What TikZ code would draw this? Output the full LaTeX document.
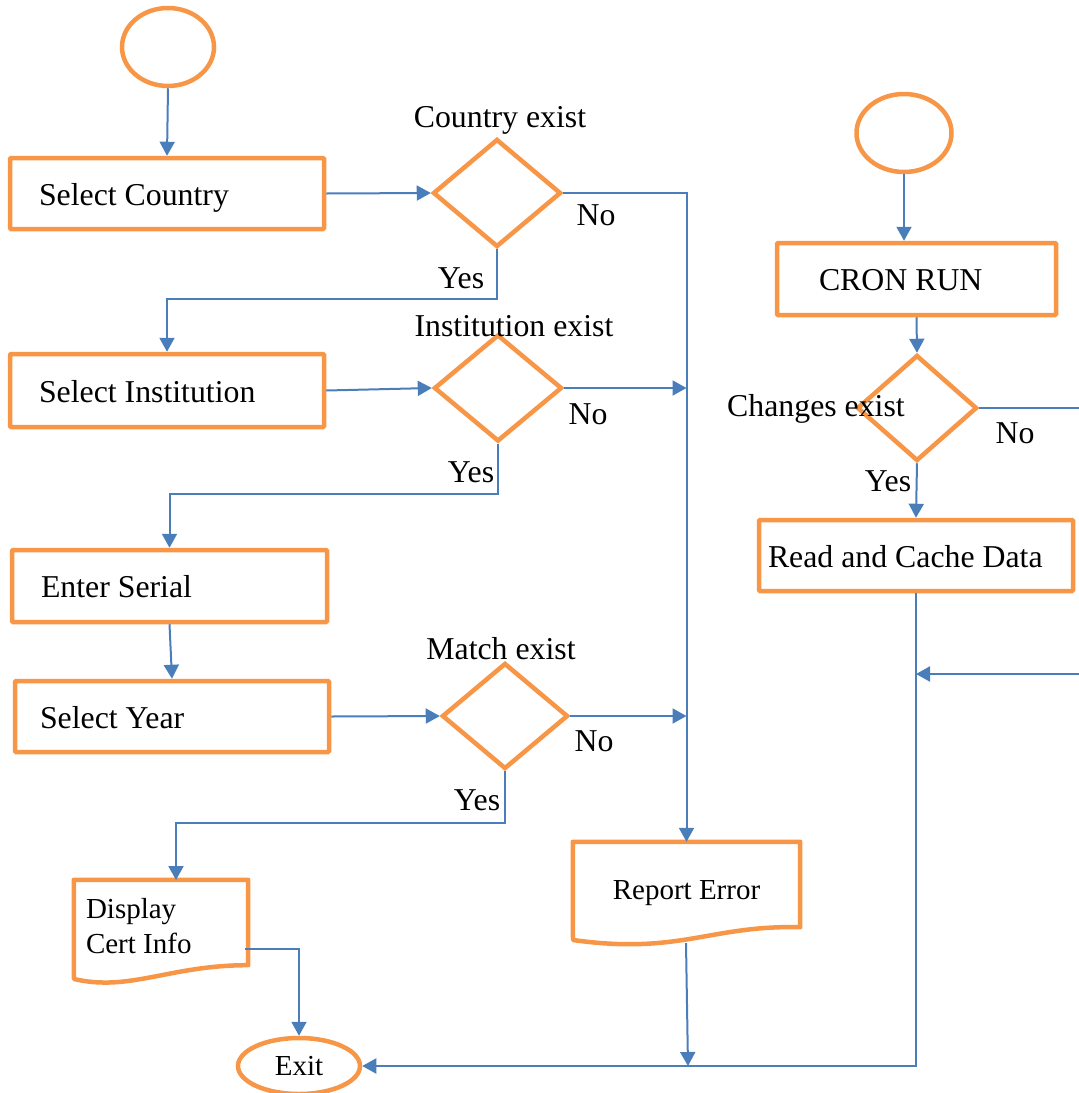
\documentclass[tikz,border=0pt]{standalone}
\usepackage{fontspec}
\setmainfont{Liberation Serif}
\usetikzlibrary{arrows.meta,shapes.geometric,calc}
\definecolor{flowor}{HTML}{F79646}
\definecolor{flowbl}{HTML}{4A7EBB}
\begin{document}
\begin{tikzpicture}[x=1pt,y=-1pt,
  big/.style={font=\fontsize{31.8}{38}\selectfont},
  small/.style={font=\fontsize{29}{35}\selectfont},
  box/.style={draw=flowor,line width=4.5pt,rectangle,rounded corners=1pt,
    inner ysep=0pt,text height=30pt,text depth=7pt,align=flush left,big},
  doc/.style={rectangle,inner ysep=0pt,small},
  term/.style={draw=flowor,line width=4.5pt,ellipse,inner sep=0pt},
  decide/.style={draw=flowor,line width=4.5pt,diamond,inner sep=0pt},
  lbl/.style={inner sep=0pt,big,yshift=-3pt},
  link/.style={draw=flowbl,line width=2pt},
  arrow/.style={link,-{Triangle[length=14pt,width=15pt]}}]
\useasboundingbox (0,0) rectangle (1079,1093);

% ---- left column: certificate lookup ----
\node[term,minimum width=92pt,minimum height=78pt] (s1) at (168,47) {};
\node[box,minimum width=314pt,minimum height=71pt,inner xsep=29pt,text width=256pt]
  (sc) at (167,193.5) {Select Country};
\node[decide,minimum width=128pt,minimum height=108pt] (d1) at (497,193) {};
\node[lbl] (t1) at (500,117) {Country exist};

\node[box,minimum width=314pt,minimum height=73pt,inner xsep=29pt,text width=256pt]
  (si) at (167,390.5) {Select Institution};
\node[decide,minimum width=128pt,minimum height=107pt] (d2) at (498,388) {};
\node[lbl] (t2) at (514,323) {Institution exist};

\node[box,minimum width=315pt,minimum height=72pt,inner xsep=29pt,text width=257pt]
  (es) at (169.5,586) {Enter Serial};
\node[box,minimum width=314pt,minimum height=71pt,inner xsep=25pt,text width=264pt]
  (sy) at (172,716.5) {Select Year};
\node[decide,minimum width=126pt,minimum height=106pt] (d3) at (505,716) {};
\node[lbl] (t3) at (501,646) {Match exist};

% document shapes
\node[doc,minimum width=174pt,minimum height=85pt,inner xsep=12pt,text width=150pt,align=flush left]
  (dc) at (161,922.5)
  {\raisebox{-6pt}[\height][\depth]{\begin{tabular}{@{}l@{}}Display\\Cert Info\end{tabular}}};
\draw[draw=flowor,line width=4.5pt,line join=round]
  (dc.south west) -- (dc.north west) -- (dc.north east) -- (dc.south east)
  .. controls (170,965) and (130,992) .. (74,979) -- cycle;

\node[doc,minimum width=227pt,minimum height=85pt,inner xsep=0pt,align=flush center]
  (re) at (686.5,884.5) {\raisebox{-9pt}[\height][\depth]{Report Error}};
\draw[draw=flowor,line width=4.5pt,line join=round]
  (573,940) -- (re.north west) -- (re.north east) -- (re.south east)
  .. controls (710,925) and (680,955) .. (573,940) -- cycle;

\node[term,small,minimum width=122pt,minimum height=56pt] (ex) at (299,1066) {Exit};

% ---- right column: scheduled job ----
\node[term,minimum width=95pt,minimum height=78pt] (s2) at (904,133) {};
\node[box,minimum width=279pt,minimum height=72pt,inner xsep=42pt,text width=195pt]
  (cr) at (916.5,279) {CRON RUN};
\node[decide,minimum width=120pt,minimum height=106pt] (d4) at (917,408) {};
\node[lbl] (t4) at (816,406) {Changes exist};
\node[box,minimum width=314pt,minimum height=71pt,inner xsep=9pt,text width=296pt]
  (rc) at (916,555.5) {Read and Cache Data};

% branch labels
\node[lbl] (n1) at (596,212) {No};
\node[lbl] (n2) at (588,411) {No};
\node[lbl] (n3) at (594,738) {No};
\node[lbl] (n4) at (1015,430) {No};
\node[lbl] (y1l) at (461,275) {Yes};
\node[lbl] (y2l) at (471,469) {Yes};
\node[lbl] (y3l) at (477,797) {Yes};
\node[lbl] (y4l) at (888,478) {Yes};

% routing points
\coordinate (y1) at (497,299);
\coordinate (y2) at (498,494);
\coordinate (y3) at (505,823);
\coordinate (dcin) at (176,880);
\coordinate (dcout) at (245,949);
\coordinate (reout) at (686,943);
\coordinate (rein) at (688,1066);
\coordinate (outr) at (1079,408);
\coordinate (inr) at (1079,674);

% connectors
\draw[arrow] (s1.south) -- (sc.north);
\draw[arrow] (sc.east) -- (d1.west);
\draw[arrow] (d1.east) -| (re.north);
\draw[arrow] (d1.south) -- (y1) -| (si.north);
\draw[arrow] (si.east) -- (d2.west);
\draw[arrow] (d2.east) -- (d2.east -| re.north);
\draw[arrow] (d2.south) -- (y2) -| (es.north);
\draw[arrow] (es.south) -- (sy.north);
\draw[arrow] (sy.east) -- (d3.west);
\draw[arrow] (d3.east) -- (d3.east -| re.north);
\draw[arrow] (d3.south) -- (y3) -| (dcin);
\draw[arrow] (dcout) -| (ex.north);
\draw[arrow] (reout) -- (rein);

\draw[arrow] (s2.south) -- (s2.south |- cr.north);
\draw[arrow] (cr.south) -- (d4.north);
\draw[link] (d4.east) -- (outr);
\draw[arrow] (d4.south) -- (rc.north);
\draw[arrow] (rc.south) |- (ex.east);
\draw[arrow] (inr) -- (inr -| rc.south);
\end{tikzpicture}
\end{document}
